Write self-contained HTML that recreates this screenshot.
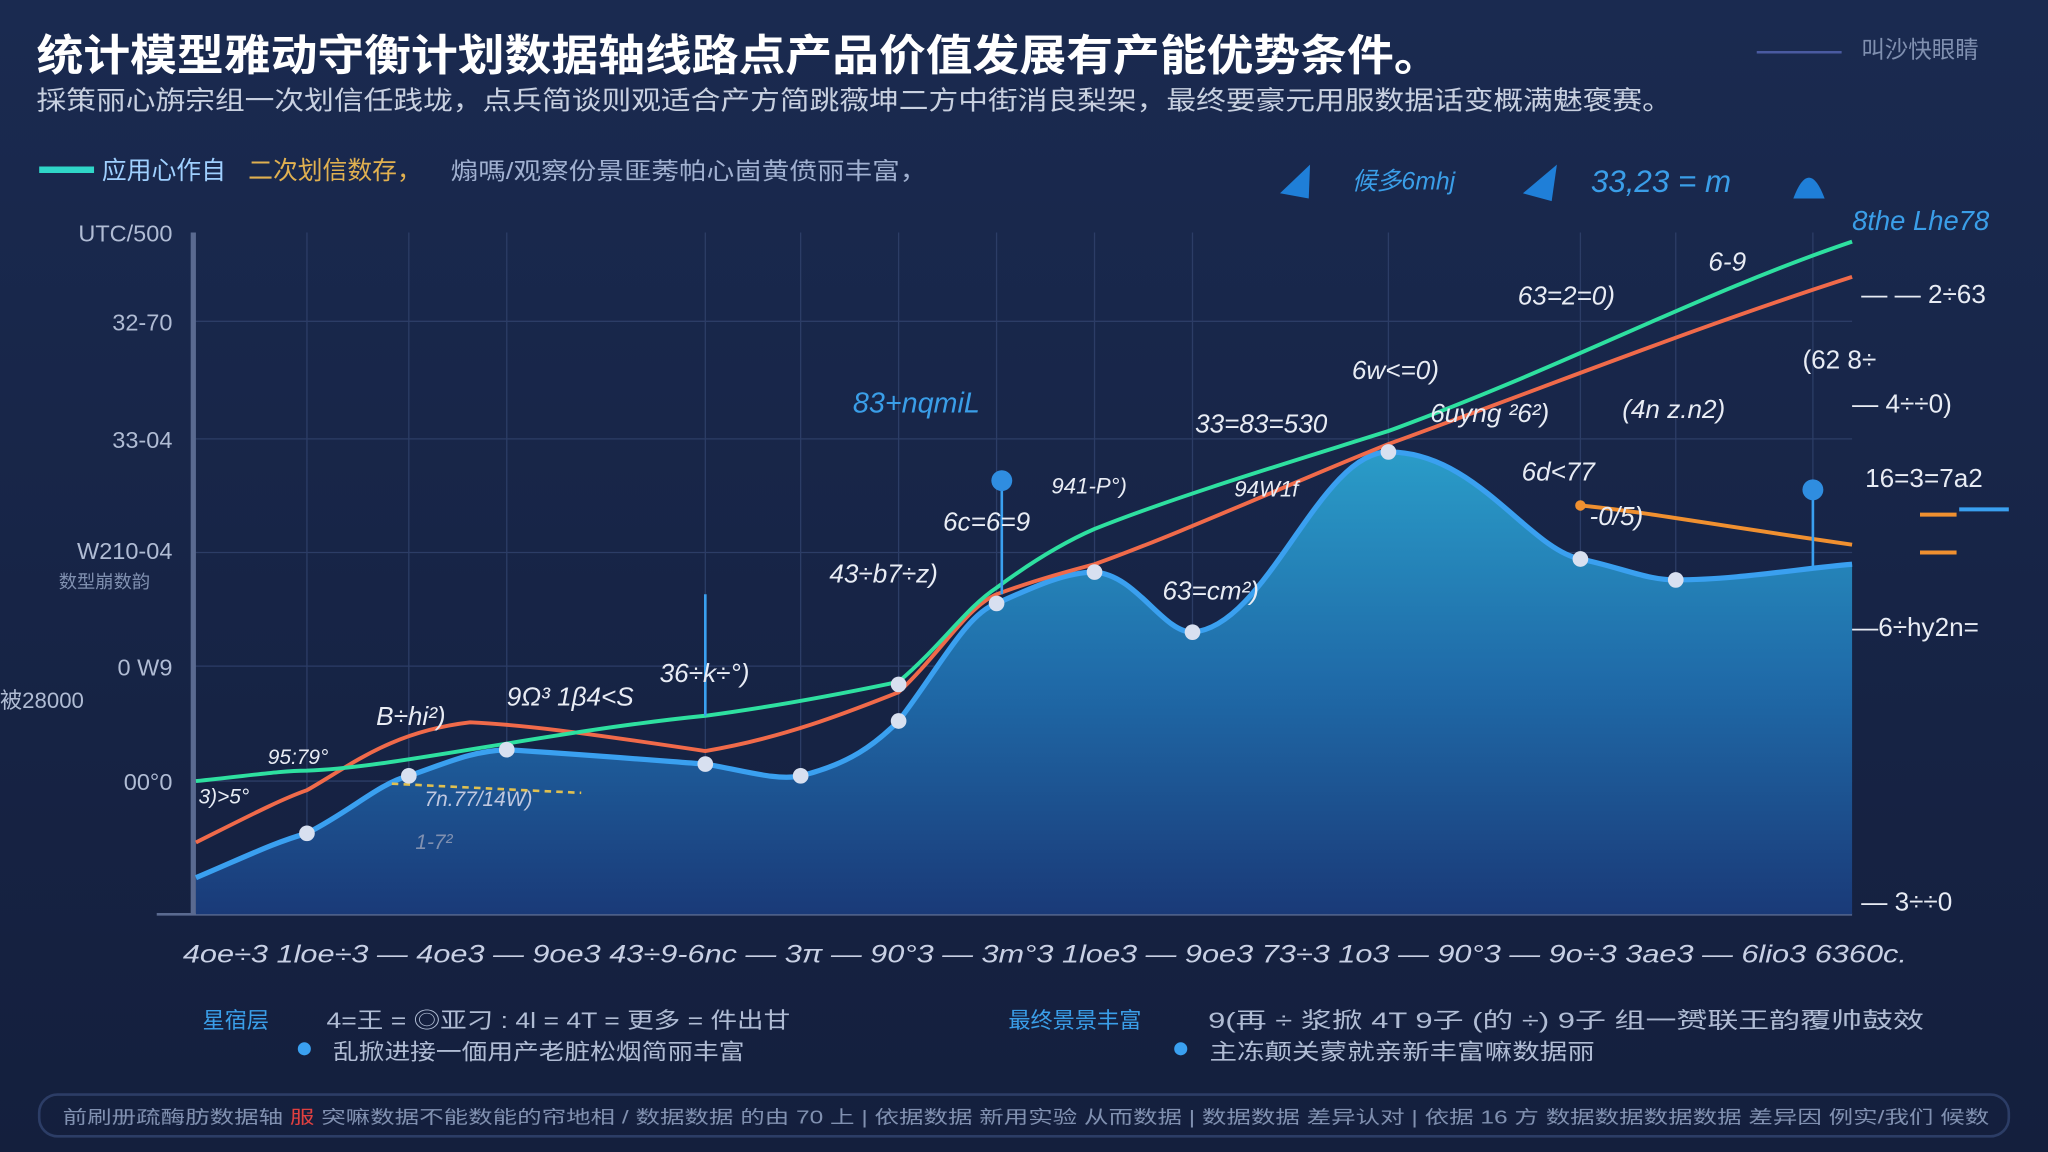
<!DOCTYPE html>
<html><head><meta charset="utf-8">
<style>
html,body{margin:0;padding:0;width:2048px;height:1152px;overflow:hidden;background:#172447;}
svg{display:block}
text{font-family:"Liberation Sans","Noto Sans CJK SC",sans-serif;}
</style></head><body>
<svg width="2048" height="1152" viewBox="0 0 1568 882" xmlns="http://www.w3.org/2000/svg">
<defs>
<linearGradient id="bg" x1="0" y1="0" x2="0" y2="1">
<stop offset="0" stop-color="#1a2a50"/><stop offset="1" stop-color="#141f3d"/>
</linearGradient>
<linearGradient id="area" x1="0" y1="0" x2="0" y2="1">
<stop offset="0" stop-color="#2a9cc8"/><stop offset="0.5" stop-color="#1f6aa8"/><stop offset="1" stop-color="#1a3a78"/>
</linearGradient>
</defs>
<rect width="1568" height="882" fill="url(#bg)"/>
<text x="28" y="54" font-size="33" font-weight="bold" fill="#ffffff" textLength="1075" lengthAdjust="spacingAndGlyphs">统计模型雅动守衡计划数据轴线路点产品价值发展有产能优势条件。</text>
<text x="28" y="84" font-size="20" fill="#c8d0e0" textLength="1252" lengthAdjust="spacingAndGlyphs">採策丽心旃宗组一次划信任践垅，点兵简谈则观适合产方简跳薇坤二方中街消良梨架，最终要豪元用服数据话变概满魅褒赛。</text>
<text x="1425" y="44" font-size="18" fill="#8090b0">叫沙快眼睛</text>
<line x1="1345" y1="40" x2="1410" y2="40" stroke="#4a5aa0" stroke-width="2"/>
<line x1="30" y1="130" x2="72" y2="130" stroke="#2fd6c8" stroke-width="5"/>
<text x="78" y="137" font-size="19" fill="#9fd0ff">应用心作自</text>
<text x="190" y="137" font-size="19" fill="#e0b050">二次划信数存，</text>
<text x="345" y="137" font-size="18" fill="#a0b0d0" textLength="365" lengthAdjust="spacingAndGlyphs">煽嗎/观察份景匪莠帕心崮黄偾丽丰富，</text>
<g fill="#1f7fd8">
<path d="M980 148 L1003 126 L1002 152 Z"/><path d="M1166 148 L1192 126 L1188 154 Z"/><path d="M1373 152 Q1385 120 1397 152 Z"/>
</g>
<text x="1035" y="145" font-size="19" fill="#3a9ee8" font-style="italic">候多6mhj</text>
<text x="1218" y="147" font-size="24" fill="#3a9ee8" font-style="italic">33,23 = m</text>
<text x="1418" y="176" font-size="21" fill="#3a9ee8" font-style="italic">8the Lhe78</text>
<g stroke="#2c3d66" stroke-width="1">
<line x1="148" y1="246" x2="1418" y2="246"/><line x1="148" y1="336" x2="1418" y2="336"/>
<line x1="148" y1="423" x2="1418" y2="423"/><line x1="148" y1="510" x2="1418" y2="510"/>
<line x1="148" y1="598" x2="1418" y2="598"/>
<line x1="235" y1="178" x2="235" y2="700"/><line x1="313" y1="178" x2="313" y2="700"/>
<line x1="388" y1="178" x2="388" y2="700"/><line x1="540" y1="178" x2="540" y2="700"/>
<line x1="613" y1="178" x2="613" y2="700"/><line x1="688" y1="178" x2="688" y2="700"/>
<line x1="763" y1="178" x2="763" y2="700"/><line x1="838" y1="178" x2="838" y2="700"/>
<line x1="913" y1="178" x2="913" y2="700"/><line x1="1063" y1="178" x2="1063" y2="700"/>
<line x1="1210" y1="178" x2="1210" y2="700"/><line x1="1283" y1="178" x2="1283" y2="700"/>
<line x1="1388" y1="178" x2="1388" y2="700"/>
</g>
<line x1="148" y1="178" x2="148" y2="700" stroke="#5a6a90" stroke-width="4"/>
<line x1="120" y1="700" x2="1418" y2="700" stroke="#5a6a90" stroke-width="2"/>
<g font-size="18" fill="#b0bcd4" text-anchor="end">
<text x="132" y="185">UTC/500</text><text x="132" y="253">32-70</text><text x="132" y="343">33-04</text>
<text x="132" y="428">W210-04</text><text x="132" y="517">0  W9</text><text x="132" y="605">00°0</text>
</g>
<text x="45" y="450" font-size="14" fill="#8090b0">数型崩数韵</text>
<text x="0" y="542" font-size="17" fill="#b0bcd4">被28000</text>
<path d="M150 672 C190 655 210 645 235 638 C270 620 290 600 313 594 C340 585 360 575 388 574 C450 578 500 582 540 585 C570 590 595 598 613 594 C650 585 670 570 688 552 C720 510 740 470 763 462 C790 450 815 438 838 438 C870 440 890 484 913 484 C970 480 1010 346 1063 346 C1130 346 1170 420 1210 428 C1240 434 1260 444 1283 444 C1330 444 1380 435 1418 432 L1418 700 L150 700 Z" fill="url(#area)"/>
<path d="M150 672 C190 655 210 645 235 638 C270 620 290 600 313 594 C340 585 360 575 388 574 C450 578 500 582 540 585 C570 590 595 598 613 594 C650 585 670 570 688 552 C720 510 740 470 763 462 C790 450 815 438 838 438 C870 440 890 484 913 484 C970 480 1010 346 1063 346 C1130 346 1170 420 1210 428 C1240 434 1260 444 1283 444 C1330 444 1380 435 1418 432" fill="none" stroke="#3aa0f0" stroke-width="4"/>
<path d="M150 645 C190 625 215 612 235 605 C270 585 300 560 360 553 C400 555 440 560 540 575 C600 565 650 545 688 530 C720 500 740 465 763 455 C790 445 815 438 838 432 C900 410 1000 365 1063 340 C1200 290 1300 250 1418 212" fill="none" stroke="#f06a4a" stroke-width="3"/>
<path d="M150 598 C190 594 215 590 235 590 C300 588 420 560 540 548 C600 540 650 530 688 522 C720 495 740 465 763 450 C790 430 815 415 838 405 C900 380 1000 350 1063 330 C1200 280 1300 225 1418 185" fill="none" stroke="#2ee0a0" stroke-width="3"/>
<path d="M1210 387 C1260 392 1300 400 1418 417" fill="none" stroke="#f09030" stroke-width="3"/>
<path d="M300 600 C340 602 400 605 445 607" fill="none" stroke="#e0c050" stroke-width="2" stroke-dasharray="5 4"/>
<line x1="540" y1="455" x2="540" y2="548" stroke="#3aa0f0" stroke-width="2"/>
<line x1="767" y1="368" x2="767" y2="455" stroke="#3aa0f0" stroke-width="2"/>
<line x1="1388" y1="375" x2="1388" y2="435" stroke="#3aa0f0" stroke-width="2"/>
<g fill="#2f8de0"><circle cx="767" cy="368" r="8"/><circle cx="1388" cy="375" r="8"/></g>
<g fill="#d8e0f0">
<circle cx="235" cy="638" r="6"/><circle cx="313" cy="594" r="6"/><circle cx="388" cy="574" r="6"/>
<circle cx="540" cy="585" r="6"/><circle cx="613" cy="594" r="6"/><circle cx="688" cy="552" r="6"/>
<circle cx="688" cy="524" r="6"/><circle cx="763" cy="462" r="6"/><circle cx="838" cy="438" r="6"/>
<circle cx="913" cy="484" r="6"/><circle cx="1063" cy="346" r="6"/><circle cx="1210" cy="428" r="6"/><circle cx="1283" cy="444" r="6"/>
</g>
<circle cx="1210" cy="387" r="4" fill="#f09030"/>
<g font-size="20" fill="#e8ecf4" font-style="italic">
<text x="288" y="555">B÷hi²)</text><text x="388" y="540">9Ω³ 1β4&lt;S</text><text x="205" y="585" font-size="16">95:79°</text>
<text x="152" y="615" font-size="16">3)&gt;5°</text><text x="505" y="522">36÷k÷°)</text><text x="635" y="446">43÷b7÷z)</text>
<text x="722" y="406">6c=6=9</text><text x="805" y="378" font-size="17">941-P°)</text><text x="890" y="459">63=cm²)</text>
<text x="945" y="380" font-size="17">94W1f</text><text x="915" y="331">33=83=530</text><text x="1095" y="323">6uyng ²6²)</text>
<text x="1035" y="290">6w&lt;=0)</text><text x="1162" y="233">63=2=0)</text><text x="1242" y="320">(4n z.n2)</text>
<text x="1165" y="368">6d&lt;77</text><text x="1217" y="402">-0/5)</text><text x="1308" y="207">6-9</text>
<text x="325" y="617" font-size="16" fill="#c0c8e0">7n.77/14W)</text><text x="318" y="650" font-size="16" fill="#8090b0">1-7²</text>
</g>
<text x="653" y="316" font-size="22" fill="#3a9ee8" font-style="italic">83+nqmiL</text>
<g font-size="20" fill="#e8ecf4">
<text x="1425" y="232">— — 2÷63</text><text x="1380" y="282">(62 8÷</text><text x="1418" y="316">— 4÷÷0)</text>
<text x="1428" y="373">16=3=7a2</text><text x="1418" y="487">—6÷hy2n=</text><text x="1425" y="697">— 3÷÷0</text>
</g>
<line x1="1470" y1="394" x2="1498" y2="394" stroke="#f09030" stroke-width="3"/>
<line x1="1500" y1="390" x2="1538" y2="390" stroke="#3aa0f0" stroke-width="3"/>
<line x1="1470" y1="423" x2="1498" y2="423" stroke="#f09030" stroke-width="3"/>
<text x="140" y="737" font-size="19" fill="#c8d0e4" font-style="italic" textLength="1320" lengthAdjust="spacingAndGlyphs">4oe÷3  1loe÷3 — 4oe3 — 9oe3  43÷9-6nc — 3π — 90°3 — 3m°3  1loe3 — 9oe3  73÷3  1o3 — 90°3 — 9o÷3  3ae3 — 6lio3  6360c.</text>
<text x="155" y="787" font-size="17" fill="#3a9ee8">星宿层</text>
<text x="250" y="787" font-size="17" fill="#b0bcd4" textLength="355" lengthAdjust="spacingAndGlyphs">4=王 = ◎亚刁 : 4l = 4T = 更多 = 件出甘</text>
<circle cx="233" cy="803" r="5" fill="#3aa0f0"/>
<text x="255" y="811" font-size="17" fill="#b0bcd4" textLength="315" lengthAdjust="spacingAndGlyphs">乱掀进接一偭用产老脏松烟简丽丰富</text>
<text x="772" y="787" font-size="17" fill="#3a9ee8">最终景景丰富</text>
<text x="925" y="787" font-size="17" fill="#b0bcd4" textLength="548" lengthAdjust="spacingAndGlyphs">9(再 ÷ 浆掀 4T 9子 (的 ÷) 9子 组一赟联王韵覆帅鼓效</text>
<circle cx="904" cy="803" r="5" fill="#3aa0f0"/>
<text x="926" y="811" font-size="17" fill="#b0bcd4" textLength="295" lengthAdjust="spacingAndGlyphs">主冻颠关蒙就亲新丰富嘛数据丽</text>
<rect x="30" y="838" width="1508" height="32" rx="14" fill="none" stroke="#2c3d66" stroke-width="2"/>
<text x="48" y="860" font-size="14" fill="#8090b0" textLength="1475" lengthAdjust="spacingAndGlyphs">前刷册疏酶肪数据轴  <tspan fill="#e04040">服</tspan> 突嘛数据不能数能的帘地相 / 数据数据 的由 70 上  |  依据数据 新用实验 从而数据  |  数据数据 差异认对  |  依据 16 方 数据数据数据数据  差异因  例实/我们 候数</text>
</svg>
</body></html>
